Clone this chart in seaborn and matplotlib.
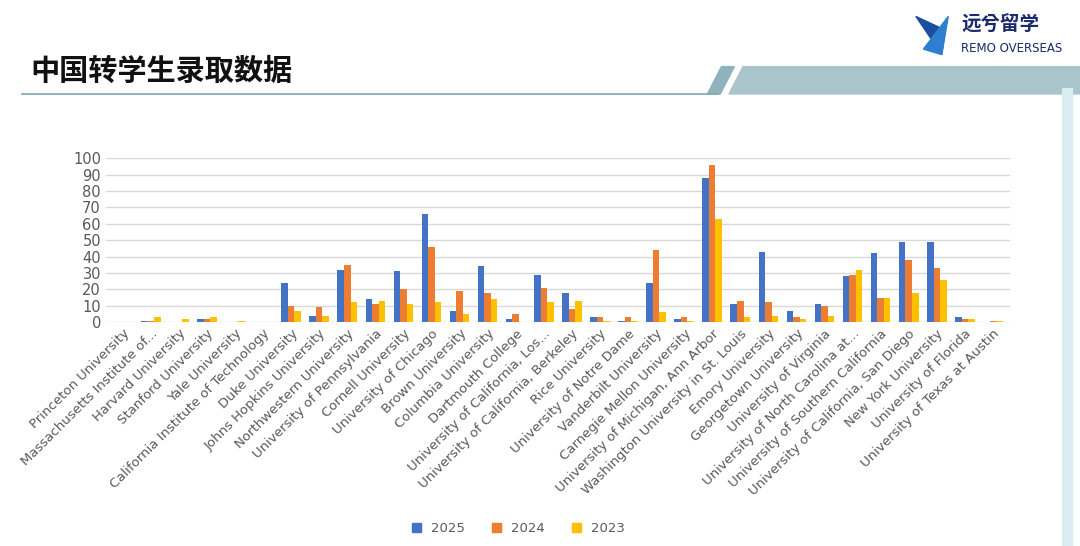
import matplotlib
matplotlib.use("Agg")
import matplotlib.pyplot as plt
from matplotlib import font_manager as fm
import seaborn as sns
import pandas as pd
from matplotlib.patches import Polygon

schools = ["Princeton University","Massachusetts Institute of...","Harvard University","Stanford University",
"Yale University","California Institute of Technology","Duke University","Johns Hopkins University",
"Northwestern University","University of Pennsylvania","Cornell University","University of Chicago",
"Brown University","Columbia University","Dartmouth College","University of California, Los...",
"University of California, Berkeley","Rice University","University of Notre Dame","Vanderbilt University",
"Carnegie Mellon University","University of Michigan, Ann Arbor","Washington University in St. Louis",
"Emory University","Georgetown University","University of Virginia","University of North Carolina at...",
"University of Southern California","University of California, San Diego","New York University",
"University of Florida","University of Texas at Austin"]
v2025 = [0,1,0,2,0,0,24,4,32,14,31,66,7,34,2,29,18,3,1,24,2,88,11,43,7,11,28,42,49,49,3,0]
v2024 = [0,1,0,2,0,0,10,9,35,11,20,46,19,18,5,21,8,3,3,44,3,96,13,12,3,10,29,15,38,33,2,1]
v2023 = [0,3,2,3,1,0,7,4,12,13,11,12,5,14,0,12,13,1,1,6,1,63,3,4,2,4,32,15,18,26,2,1]
years = ["2025","2024","2023"]
colors = ["#4472C4","#ED7D31","#FFC000"]

cjk = None
for f in fm.findSystemFonts():
    if "NotoSansCJK" in f.replace(" ", "") or "NotoSansSC" in f or "NotoSansCJK" in f:
        if cjk is None or "Bold" in f:
            cjk = f
cjk_prop = fm.FontProperties(fname=cjk, weight="bold") if cjk else fm.FontProperties(family="Noto Sans CJK SC", weight="bold")
cjk_prop2 = fm.FontProperties(fname=cjk) if cjk else fm.FontProperties(family="Noto Sans CJK SC")

df = pd.DataFrame({"school": schools*3,
                   "value": v2025+v2024+v2023,
                   "year": [y for y in years for _ in schools]})

fig = plt.figure(figsize=(10.8,5.46), dpi=100)
fig.patch.set_facecolor("white")
cp = cjk_prop.copy(); cp.set_size(21)
fig.text(0.028, 0.87, "中国转学生录取数据", fontproperties=cp, color="#111111", va="center")
fig.add_artist(plt.Line2D([0.02,0.665],[0.828,0.828], color="#7fa6b0", lw=1.2))
fig.add_artist(Polygon([[0.655,0.828],[0.668,0.878],[0.68,0.878],[0.667,0.828]], closed=True,
                       color="#8fb3bd", transform=fig.transFigure))
fig.add_artist(Polygon([[0.675,0.828],[0.688,0.878],[1.0,0.878],[1.0,0.828]], closed=True,
                       color="#a9c4cb", transform=fig.transFigure))
cp2 = cjk_prop2.copy(); cp2.set_size(14)
fig.text(0.89, 0.955, "远兮留学", fontproperties=cp2, color="#1a2a6c", va="center")
fig.text(0.89, 0.912, "REMO OVERSEAS", fontsize=8.5, color="#1a2a6c", va="center")
fig.add_artist(Polygon([[0.848,0.97],[0.872,0.90],[0.875,0.945]], closed=True,
                       color="#1c4fa0", transform=fig.transFigure))
fig.add_artist(Polygon([[0.878,0.97],[0.872,0.90],[0.855,0.91]], closed=True,
                       color="#2f7fd0", transform=fig.transFigure))
fig.add_artist(plt.Line2D([0.988,0.988],[0,0.83], color="#d8ecf2", lw=8))

ax = fig.add_axes([0.098, 0.41, 0.837, 0.30])
sns.barplot(data=df, x="school", y="value", hue="year", palette=colors, ax=ax,
            width=0.7, edgecolor="none", legend=False, saturation=1)
ax.set_ylim(0,100)
ax.set_yticks(range(0,101,10))
ax.yaxis.grid(True, color="#d9d9d9", lw=1)
ax.set_axisbelow(True)
for s in ax.spines.values():
    s.set_visible(False)
ax.set_xlabel(""); ax.set_ylabel("")
ax.tick_params(length=0, labelsize=9.5, colors="#595959")
ax.tick_params(axis="y", labelsize=10.5)
ax.set_xticks(range(len(schools)))
ax.set_xticklabels(schools, rotation=45, ha="right", rotation_mode="anchor")
ax.set_xlim(-0.6, len(schools)-0.4)

handles = [plt.Rectangle((0,0),1,1,color=c) for c in colors]
fig.legend(handles, years, loc="center", bbox_to_anchor=(0.48,0.032), ncol=3, frameon=False,
           fontsize=9.5, handlelength=0.7, handleheight=0.7, labelcolor="#595959")
fig.savefig("out.png", dpi=100)
